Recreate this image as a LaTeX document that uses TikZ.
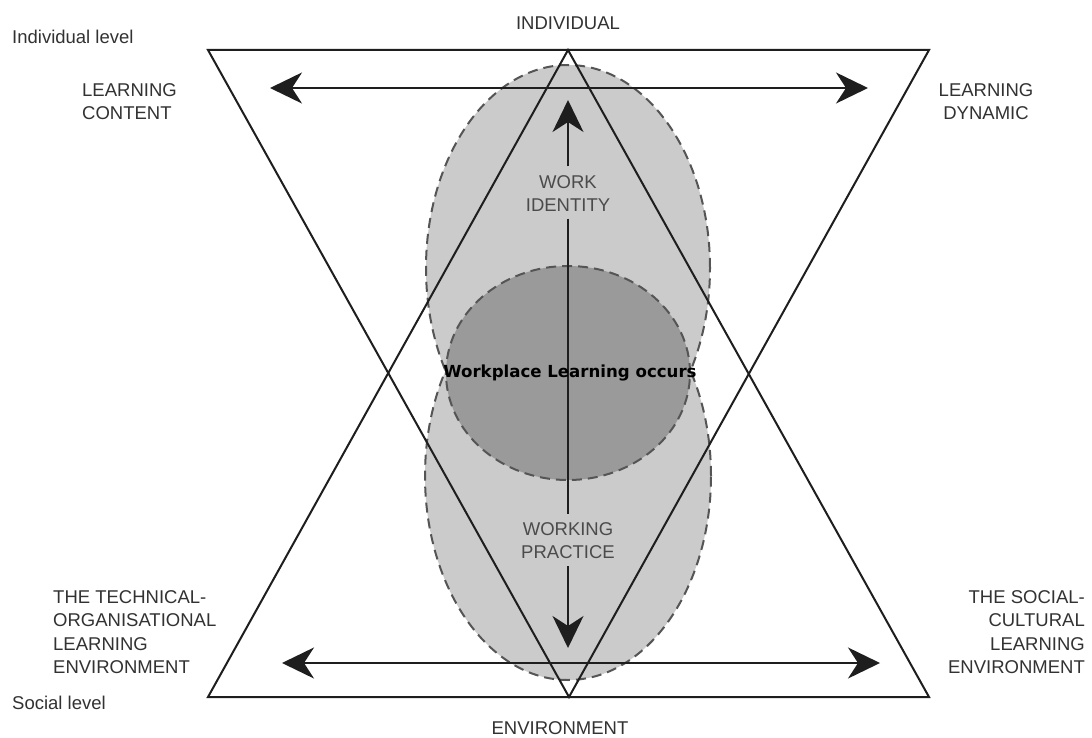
\documentclass[tikz,border=0pt]{standalone}
\usepackage{fontspec}
\setmainfont{Liberation Sans}
\newfontfamily\dvs{DejaVu Sans}
\usetikzlibrary{arrows.meta}
\definecolor{lightfill}{RGB}{203,203,203}
\definecolor{darkfill}{RGB}{154,154,154}
\definecolor{dashcol}{RGB}{85,85,85}
\definecolor{linecol}{RGB}{30,30,30}
\definecolor{txtcol}{RGB}{50,50,50}
\definecolor{intxt}{RGB}{75,75,75}
\tikzset{
  blob/.style={fill=#1, draw=dashcol, line width=2pt, dash pattern=on 10pt off 6pt},
  tri/.style={draw=linecol, line width=2pt, line join=miter},
  harrow/.style={draw=linecol, line width=2pt, {Stealth[length=32pt,width=31pt,inset=10pt]}-{Stealth[length=32pt,width=31pt,inset=10pt]}},
  varrow/.style={draw=linecol, line width=2pt, -{Stealth[length=32pt,width=31pt,inset=10pt]}},
  vline/.style={draw=linecol, line width=2pt},
  lbl/.style={inner sep=0pt, text=txtcol, font=\fontsize{18.5}{23.5}\selectfont},
  inlbl/.style={inner sep=0pt, text=intxt, font=\fontsize{18.5}{23}\selectfont, align=center},
  core/.style={inner sep=0pt, text=black, font=\dvs\bfseries\fontsize{16.6}{20}\selectfont}
}
\begin{document}
\begin{tikzpicture}[x=1pt,y=-1pt]
\useasboundingbox (0,0) rectangle (1092,738);
\fill[white] (0,0) rectangle (1092,738);
% ellipses
\path[blob=lightfill] (568,268) ellipse [x radius=142pt, y radius=203pt];
\path[blob=lightfill] (568,476) ellipse [x radius=143pt, y radius=204pt];
\path[blob=darkfill] (568,373) ellipse [x radius=122pt, y radius=107pt];
% triangles
\coordinate (TL) at (208,50);
\coordinate (TR) at (929,50);
\coordinate (TA) at (568,50);
\coordinate (BL) at (208,697);
\coordinate (BR) at (929,697);
\coordinate (BA) at (569,697);
\draw[tri] (TL) -- (TR) -- (BA) -- cycle;
\draw[tri] (BL) -- (BR) -- (TA) -- cycle;
% horizontal arrows
\coordinate (hTL) at (270,88);
\coordinate (hTR) at (868,88);
\coordinate (hBL) at (282,663);
\coordinate (hBR) at (880,663);
\draw[harrow] (hTL) -- (hTR);
\draw[harrow] (hBL) -- (hBR);
% vertical arrow with labels
\coordinate (vtop) at (568,100);
\coordinate (vbot) at (568,648);
\node[inlbl] (wi) at (568,193.5) {WORK\\IDENTITY};
\node[inlbl] (wp) at (568,541) {WORKING\\PRACTICE};
\draw[varrow] ([yshift=9pt]wi.north) -- (vtop);
\draw[vline] ([yshift=-7pt]wi.south) -- ([yshift=9pt]wp.north);
\draw[varrow] ([yshift=-7pt]wp.south) -- (vbot);
\node[core] (wlo) at (570,373) {Workplace Learning occurs};
% outer labels
\node[lbl, anchor=west] (il) at (12,37) {Individual level};
\node[lbl, anchor=west] (sl) at (12,703) {Social level};
\node[lbl] (ind) at (568,23) {INDIVIDUAL};
\node[lbl] (env) at (560,728) {ENVIRONMENT};
\node[lbl, anchor=west, align=left] (lc) at (82,101.5) {LEARNING\\CONTENT};
\node[lbl, align=center] (ld) at (986,101.5) {LEARNING\\DYNAMIC};
\node[lbl, anchor=west, align=left] (tol) at (53,632) {THE TECHNICAL-\\ORGANISATIONAL\\LEARNING\\ENVIRONMENT};
\node[lbl, anchor=east, align=right] (scl) at (1085,632) {THE SOCIAL-\\CULTURAL\\LEARNING\\ENVIRONMENT};
\end{tikzpicture}
\end{document}
